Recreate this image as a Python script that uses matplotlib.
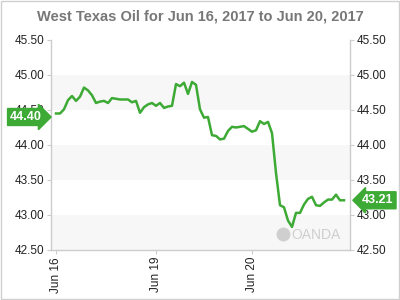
"""
West Texas Oil price chart, Jun 16 - Jun 20 2017
"""
import matplotlib
matplotlib.use('Agg')
import matplotlib.pyplot as plt
from matplotlib.patches import Rectangle

plt.rcParams['font.family'] = ['Liberation Sans', 'DejaVu Sans']

# Data (hourly-ish points, weekend gap removed)
prices = [
    44.45, 44.45, 44.51, 44.64, 44.70, 44.63, 44.69, 44.82, 44.78, 44.71,
    44.60, 44.62, 44.63, 44.60, 44.67, 44.66, 44.65, 44.65, 44.65, 44.61,
    44.63, 44.46, 44.54, 44.58, 44.60, 44.56, 44.60, 44.53, 44.55, 44.56,
    44.87, 44.84, 44.89, 44.73, 44.90, 44.86, 44.51, 44.39, 44.40, 44.14,
    44.13, 44.08, 44.09, 44.20, 44.26, 44.25, 44.26, 44.27, 44.23, 44.19,
    44.21, 44.34, 44.30, 44.33, 44.17, 43.60, 43.14, 43.11, 42.92, 42.83,
    43.03, 43.03, 43.15, 43.23, 43.26, 43.14, 43.13, 43.18, 43.22, 43.22,
    43.29, 43.21, 43.21,
]
tick_idx = [0, 25, 49]
tick_labels = ['Jun 16', 'Jun 19', 'Jun 20']
y_ticks = [42.5, 43.0, 43.5, 44.0, 44.5, 45.0, 45.5]
open_label = 44.40
last_label = 43.21

title = 'West Texas Oil for Jun 16, 2017 to Jun 20, 2017'
green = '#3daa35'
grid_gray = '#cccccc'

fig = plt.figure(figsize=(4, 3), dpi=100, facecolor='white')
ax = fig.add_axes([0.1275, 0.1667, 0.7475, 0.70])
ax.set_facecolor('white')

# alternating horizontal bands
for i in range(len(y_ticks) - 1):
    if i % 2 == 0:
        ax.axhspan(y_ticks[i], y_ticks[i + 1], color='#f7f7f7', zorder=0, lw=0)

x = list(range(len(prices)))
ax.plot(x, prices, color=green, linewidth=1.8, zorder=3, solid_joinstyle='round')

ax.set_xlim(-1.25, 73.5)
ax.set_ylim(42.5, 45.5)

ax.set_yticks(y_ticks)
ax.set_yticklabels([f'{v:.2f}' for v in y_ticks])
ax.tick_params(axis='y', which='both', left=True, right=True, labelleft=True,
               labelright=True, length=3, width=0.8, color=grid_gray,
               labelsize=8.5, labelcolor='#222222', pad=2)
ax.set_xticks(tick_idx)
ax.set_xticklabels(tick_labels, rotation=90)
ax.tick_params(axis='x', length=3, width=0.8, color=grid_gray,
               labelsize=8.5, labelcolor='#222222', pad=2)

for side in ['left', 'right', 'bottom']:
    ax.spines[side].set_color(grid_gray)
    ax.spines[side].set_linewidth(1)
ax.spines['top'].set_visible(False)

# title
fig.text(0.5, 0.945, title, ha='center', va='center', fontsize=10.5,
         fontweight='bold', color='#777777')

# price tags (drawn over the tick labels like the original)
tag_open = ax.annotate(f'{open_label:.2f}', xy=(0, open_label),
                       xycoords=('axes fraction', 'data'),
                       xytext=(-18, 0), textcoords='offset points', ha='center', va='center',
                       fontsize=9, fontweight='bold', color='white', annotation_clip=False,
                       bbox=dict(boxstyle='rarrow,pad=0.2', fc=green, ec=green))
tag_last = ax.annotate(f'{last_label:.2f}', xy=(1, last_label),
                       xycoords=('axes fraction', 'data'),
                       xytext=(20, 0), textcoords='offset points', ha='center', va='center',
                       fontsize=9, fontweight='bold', color='white', annotation_clip=False,
                       bbox=dict(boxstyle='larrow,pad=0.2', fc=green, ec=green))
tag_open.set_zorder(10)
tag_last.set_zorder(10)

# watermark
ax.text(0.97, 0.04, 'OANDA', transform=ax.transAxes, ha='right', va='bottom',
        fontsize=10, color='#cfcfcf', zorder=1)
ax.plot([0.775], [0.075], transform=ax.transAxes, marker='o', markersize=9,
        color='#cfcfcf', zorder=1)

# outer border
fig.patches.append(Rectangle((0.002, 0.003), 0.996, 0.994, transform=fig.transFigure,
                             fill=False, ec='#d0d0d0', lw=1))

fig.savefig('out.png', dpi=100, facecolor='white')
plt.close(fig)
